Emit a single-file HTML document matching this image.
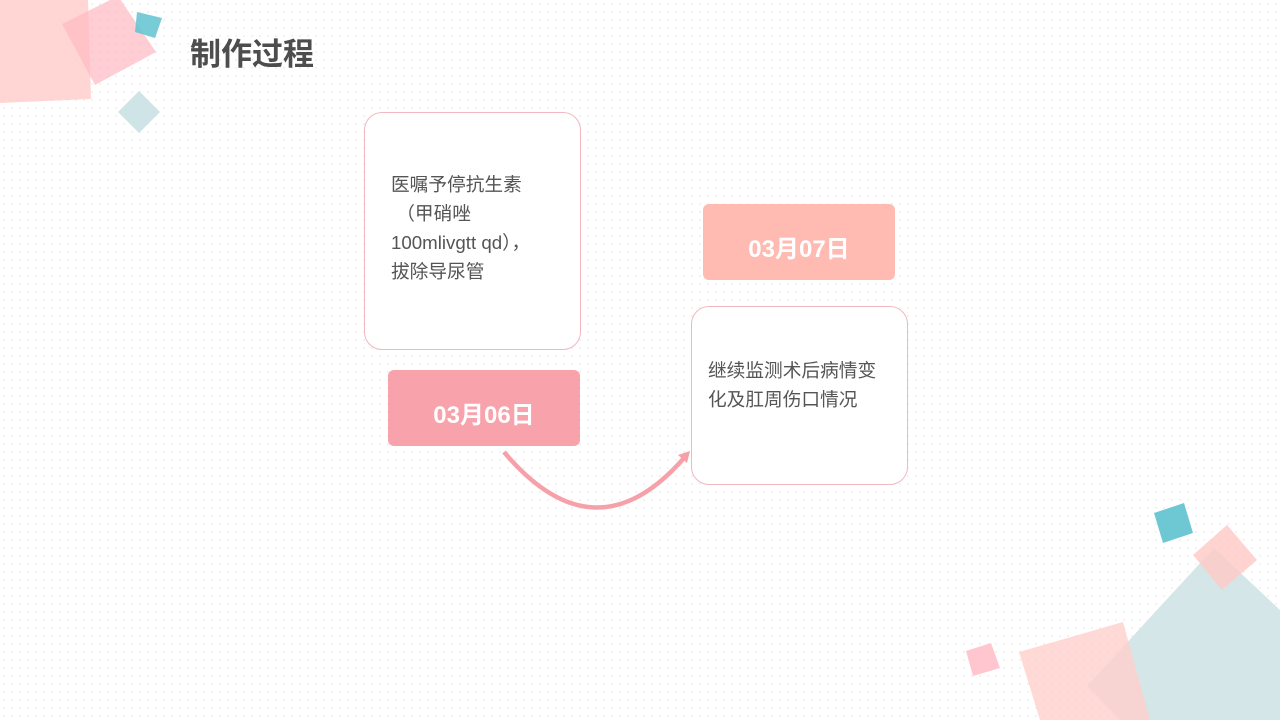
<!DOCTYPE html>
<html><head><meta charset="utf-8"><style>
body{margin:0;width:1280px;height:720px;overflow:hidden;background:#fff;position:relative;font-family:"Liberation Sans","Noto Sans CJK SC",sans-serif}
.bg{position:absolute;left:0;top:0;width:1280px;height:720px;background-image:radial-gradient(#f1f1f1 1px,transparent 1.2px);background-size:8px 8px}
.box{position:absolute;background:#fff;border:1px solid #f1b8c0;border-radius:18px;box-sizing:border-box}
.txt{position:absolute;color:#555;font-size:18.7px;line-height:29px}
.lab{position:absolute;color:#fff;font-weight:bold;font-size:24px;border-radius:6px;box-sizing:border-box;padding-top:8px;display:flex;align-items:center;justify-content:center}
h1{position:absolute;left:190px;top:29px;margin:0;font-size:31px;color:#4d4d4d;font-weight:bold}
</style></head><body>
<div class="bg"></div>
<svg width="1280" height="720" style="position:absolute;left:0;top:0">
<polygon points="0,0 88,0 91,99 0,103" fill="#ffcfcc" opacity="0.85"/>
<polygon points="62,24 118,-4 156,52 95,85" fill="#ffb9c2" opacity="0.7"/>
<polygon points="137,12 162,18 155,38 135,32" fill="#5fc3d0" opacity="0.85"/>
<polygon points="139,91 160,112 139,133 118,112" fill="#cfe4e6"/>
<polygon points="1087,686 1214,548 1280,610 1280,720 1120,720" fill="#cfe3e5" opacity="0.9"/>
<polygon points="1193,555 1227,525 1257,560 1222,590" fill="#ffc9c4" opacity="0.8"/>
<polygon points="1154,513 1184,503 1193,533 1163,543" fill="#6ec8d4"/>
<polygon points="1019,652 1123,622 1150,720 1040,720" fill="#ffcfca" opacity="0.8"/>
<polygon points="966,651 991,643 1000,668 973,676" fill="#ffc6cf"/>
<path d="M504,452 Q595,560 684,458" fill="none" stroke="#f6a1a9" stroke-width="4.5"/>
<polygon points="690,451 678,455 687,463" fill="#f6a1a9"/>
</svg>
<h1>制作过程</h1>
<div class="box" style="left:364px;top:112px;width:217px;height:238px"></div>
<div class="txt" style="left:391px;top:170px;width:180px">医嘱予停抗生素<br>&nbsp;（甲硝唑<br>100mlivgtt qd），<br>拔除导尿管</div>
<div class="lab" style="left:388px;top:370px;width:192px;height:76px;background:#f8a2ab">03月06日</div>
<div class="lab" style="left:703px;top:204px;width:192px;height:76px;background:#ffbab2">03月07日</div>
<div class="box" style="left:691px;top:306px;width:217px;height:179px"></div>
<div class="txt" style="left:708px;top:356px;width:195px">继续监测术后病情变<br>化及肛周伤口情况</div>
</body></html>
